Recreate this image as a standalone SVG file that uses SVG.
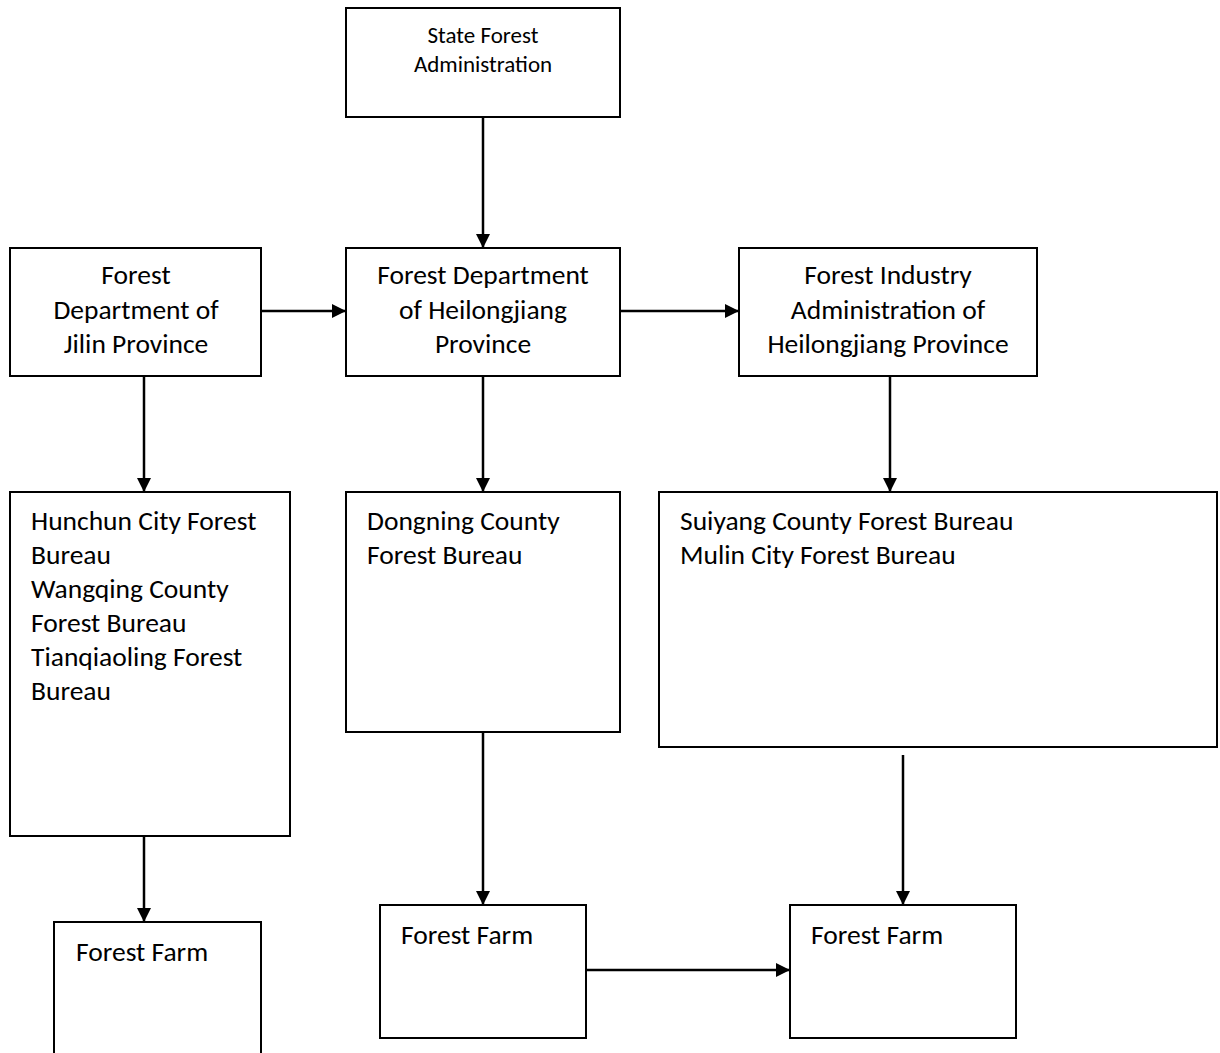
<svg xmlns="http://www.w3.org/2000/svg" width="1220" height="1053" viewBox="0 0 1220 1053">
<style>
.box{fill:#fff;stroke:#000;stroke-width:2}
text{font-family:Carlito,"Liberation Sans",Arial,sans-serif;font-size:27.5px;fill:#000}
.c{text-anchor:middle}
.s{font-size:23px}
.ln{stroke:#000;stroke-width:2.5;fill:none;marker-end:url(#ah)}
</style>
<defs>
<marker id="ah" viewBox="0 0 14 14" refX="14" refY="7" markerWidth="14" markerHeight="14" markerUnits="userSpaceOnUse" orient="auto">
<path d="M0,0 L14,7 L0,14 z" fill="#000"/>
</marker>
</defs>
<rect width="1220" height="1053" fill="#fff"/>
<g id="connectors">
<path class="ln" d="M483,117 V248"/>
<path class="ln" d="M261,311 H346"/>
<path class="ln" d="M620,311 H739"/>
<path class="ln" d="M144,376 V492"/>
<path class="ln" d="M483,376 V492"/>
<path class="ln" d="M890,376 V492"/>
<path class="ln" d="M144,836 V922"/>
<path class="ln" d="M483,732 V905"/>
<path class="ln" d="M903,755 V905"/>
<path class="ln" d="M586,970 H790"/>
</g>
<g id="sfa"><rect class="box" x="346" y="8" width="274" height="109"/>
<text class="c s" x="483" y="43">State Forest</text><text class="c s" x="483" y="72">Administration</text></g>
<g id="jilin"><rect class="box" x="10" y="248" width="251" height="128"/>
<text class="c" x="136" y="284">Forest</text><text class="c" x="136" y="319">Department of</text><text class="c" x="136" y="353">Jilin Province</text></g>
<g id="hlj"><rect class="box" x="346" y="248" width="274" height="128"/>
<text class="c" x="483" y="284">Forest Department</text><text class="c" x="483" y="319">of Heilongjiang</text><text class="c" x="483" y="353">Province</text></g>
<g id="industry"><rect class="box" x="739" y="248" width="298" height="128"/>
<text class="c" x="888" y="284">Forest Industry</text><text class="c" x="888" y="319">Administration of</text><text class="c" x="888" y="353">Heilongjiang Province</text></g>
<g id="hunchun"><rect class="box" x="10" y="492" width="280" height="344"/>
<text x="31" y="530">Hunchun City Forest</text><text x="31" y="564">Bureau</text><text x="31" y="598">Wangqing County</text><text x="31" y="632">Forest Bureau</text><text x="31" y="666">Tianqiaoling Forest</text><text x="31" y="700">Bureau</text></g>
<g id="dongning"><rect class="box" x="346" y="492" width="274" height="240"/>
<text x="367" y="530">Dongning County</text><text x="367" y="564">Forest Bureau</text></g>
<g id="suiyang"><rect class="box" x="659" y="492" width="558" height="255"/>
<text x="680" y="530">Suiyang County Forest Bureau</text><text x="680" y="564">Mulin City Forest Bureau</text></g>
<g id="farm1"><rect class="box" x="54" y="922" width="207" height="140"/>
<text x="76" y="961">Forest Farm</text></g>
<g id="farm2"><rect class="box" x="380" y="905" width="206" height="133"/>
<text x="401" y="944">Forest Farm</text></g>
<g id="farm3"><rect class="box" x="790" y="905" width="226" height="133"/>
<text x="811" y="944">Forest Farm</text></g>
</svg>
